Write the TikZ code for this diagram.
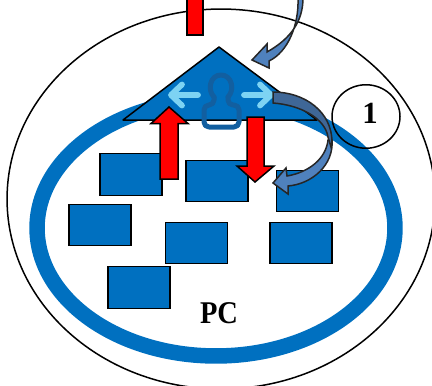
\documentclass[tikz,border=0pt]{standalone}
\usepackage{fontspec}
\setmainfont{Liberation Serif}
\usetikzlibrary{shapes.geometric}
\definecolor{pcblue}{HTML}{0070C0}
\definecolor{userblue}{HTML}{125FA0}
\definecolor{lightarrow}{HTML}{7DD3F3}
\definecolor{bendblue}{HTML}{4F81BD}
\definecolor{bendshade}{HTML}{3F6797}
\tikzset{
	pcbox/.style={rectangle, draw=black, fill=pcblue, line width=0.028cm, minimum width=1.24cm, minimum height=0.83cm, inner sep=0pt},
	redarrow/.style={draw=black, fill=red, line width=0.03cm, line join=miter},
	bendarrow/.style={draw=black!85, fill=bendblue, line width=0.03cm},
	lightline/.style={draw=lightarrow, line width=0.115cm, line cap=round, line join=round},
	userline/.style={draw=userblue, line width=0.1cm, line cap=round, line join=round},
	label/.style={inner sep=0pt, transform shape}
}

\begin{document}
\begin{tikzpicture}[x=0.02cm, y=-0.02cm]

	\clip (0, 0) rectangle (432, 385);
	\useasboundingbox (0, 0) rectangle (432, 385);

	\node[ellipse, draw, line width=0.03cm, minimum width=8.56cm, minimum height=7.6cm, inner sep=0pt] (outer) at (221, 199) {};
	\node[ellipse, draw=pcblue, line width=0.31cm, minimum width=7.16cm, minimum height=5.12cm, inner sep=0pt] (pc) at (216, 228) {};

	\node[pcbox] (boxa) at (131, 174.5) {};
	\node[pcbox] (boxb) at (217, 181) {};
	\node[pcbox] (boxc) at (307.5, 191) {};
	\node[pcbox] (boxd) at (100, 225) {};
	\node[pcbox] (boxe) at (196.5, 243) {};
	\node[pcbox] (boxf) at (301, 243) {};
	\node[pcbox] (boxg) at (139, 287.5) {};

	\draw[black, fill=pcblue, line width=0.03cm, line join=round] (219, 47) -- (317, 120) -- (123, 120) -- cycle;

	% user
	\draw[userline] (214, 97) .. controls (207, 90) and (210, 75) .. (221, 75) .. controls (232, 75) and (235, 90) .. (228, 97);
	\draw[userline, rounded corners=0.1cm] (228, 97) -- (228, 105) -- (239, 105) -- (239, 127) -- (204, 127) -- (204, 105) -- (214, 105) -- (214, 97);

	\coordinate (lefta) at (198, 95);
	\coordinate (leftb) at (171, 95);
	\coordinate (righta) at (244, 95);
	\coordinate (rightb) at (271, 95);
	\draw[lightline] (lefta) -- (leftb) (182, 84.5) -- (leftb) -- (182, 105.5);
	\draw[lightline] (righta) -- (rightb) (260, 84.5) -- (rightb) -- (260, 105.5);

	\draw[redarrow] (187, -2) -- (203, -2) -- (203, 35) -- (187, 35) -- cycle;
	\draw[redarrow] (169, 107) -- (188, 123.5) -- (178, 123.5) -- (178, 179) -- (160, 179) -- (160, 123.5) -- (151, 123.5) -- cycle;
	\draw[redarrow] (247, 117) -- (264, 117) -- (264, 166) -- (274, 166) -- (255, 182) -- (237, 166) -- (247, 166) -- cycle;

	\draw[bendarrow] (303, -2) .. controls (303, 20) and (292, 38) .. (267, 52) -- (267, 44) -- (252, 60) -- (269, 68) -- (269, 61) .. controls (288, 52) and (299, 25) .. (298, -2) -- cycle;

	\draw[bendarrow] (328, 140) .. controls (326, 158) and (310, 172) .. (287, 176) -- (286, 168) -- (273, 183) -- (288, 194) -- (288, 186) .. controls (312, 184) and (334, 165) .. (332, 140) -- cycle;
	\draw[bendarrow, fill=bendshade] (273, 92) .. controls (305, 92) and (332, 112) .. (332, 142) -- (331, 147) -- (328, 137) .. controls (325, 118) and (300, 105) .. (273, 103) -- cycle;

	\node[ellipse, draw, line width=0.03cm, minimum width=1.36cm, minimum height=1.27cm, inner sep=0pt] (one) at (366, 116.5) {};
	\node[label, font=\bfseries\fontsize{17.5}{17.5}\selectfont] (onetext) at (370, 113.5) {1};
	\node[label, xscale=0.9, font=\bfseries\fontsize{18}{18}\selectfont] (pctext) at (219, 313) {PC};
\end{tikzpicture}
\end{document}
